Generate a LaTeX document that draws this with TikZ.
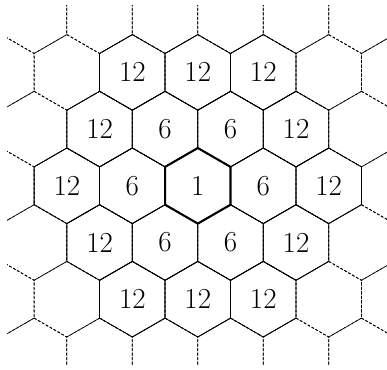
\documentclass[tikz,border=0pt]{standalone}
\begin{document}
\begin{tikzpicture}[x=1pt,y=1pt,
  dashedge/.style={line width=0.75pt,dash pattern=on 2.7pt off 1.8pt},
  solidedge/.style={line width=0.8pt,line join=miter},
  centeredge/.style={line width=2.1pt,line join=miter},
  hexlabel/.style={inner sep=0pt,font=\fontsize{29}{29}\selectfont}]
\useasboundingbox (0,0) rectangle (387,369);
\def\hs{37.8}
\def\hw{65.47}
\begin{scope}
\clip (7,4) rectangle (388,363.3);
\foreach \hr in {-4,...,4} {
  \foreach \hq in {-6,...,6} {
    \pgfmathsetmacro\hcx{197.8+\hw*(\hq+\hr/2)}
    \pgfmathsetmacro\hcy{183.2-1.5*\hs*\hr}
    \draw[dashedge] (\hcx,\hcy) +(90:\hs) -- +(30:\hs) -- +(-30:\hs) -- +(-90:\hs) -- +(-150:\hs) -- +(150:\hs) -- cycle;
  }
}
\end{scope}
\foreach \hr in {-2,...,2} {
  \foreach \hq in {-2,...,2} {
    \pgfmathtruncatemacro\hdist{(abs(\hq)+abs(\hr)+abs(\hq+\hr))/2}
    \pgfmathsetmacro\hcx{197.8+\hw*(\hq+\hr/2)}
    \pgfmathsetmacro\hcy{183.2-1.5*\hs*\hr}
    \ifnum\hdist<3
      \draw[solidedge] (\hcx,\hcy) +(90:\hs) -- +(30:\hs) -- +(-30:\hs) -- +(-90:\hs) -- +(-150:\hs) -- +(150:\hs) -- cycle;
      \ifnum\hdist=0 \def\hlab{1}\fi
      \ifnum\hdist=1 \def\hlab{6}\fi
      \ifnum\hdist=2 \def\hlab{12}\fi
      \node[hexlabel] (h\hq\hr) at (\hcx,\hcy) {\hlab};
    \fi
  }
}
\draw[centeredge] (197.8,183.2) +(90:\hs) -- +(30:\hs) -- +(-30:\hs) -- +(-90:\hs) -- +(-150:\hs) -- +(150:\hs) -- cycle;
\end{tikzpicture}
\end{document}
